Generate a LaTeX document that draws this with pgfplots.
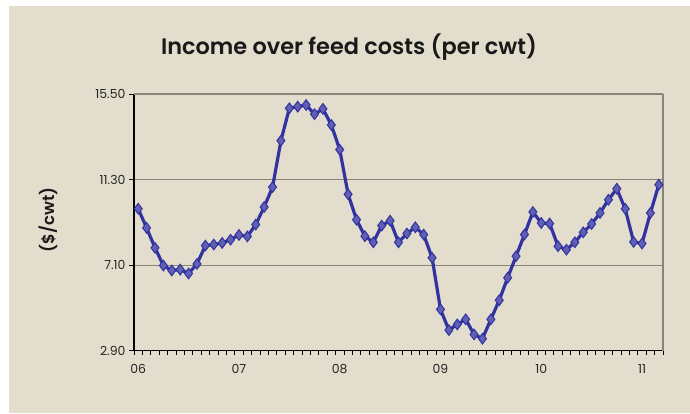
\documentclass[border=0pt]{standalone}
\usepackage{fontspec}
\setmainfont{Poppins}
\newfontfamily\titlefont{Poppins}[UprightFont={* SemiBold}]
\usepackage{pgfplots}
\pgfplotsset{compat=1.18}
\definecolor{bg}{RGB}{226,221,204}
\definecolor{ln}{RGB}{50,50,160}
\definecolor{mk}{RGB}{95,95,180}
\definecolor{gr}{RGB}{135,132,120}
\begin{document}
\begin{tikzpicture}[x=1bp,y=1bp]
\fill[white] (0,0) rectangle (690,413);
\fill[bg] (9,0) rectangle (690,407);
\node[font=\titlefont\fontsize{22.5}{26}\selectfont, text=black!90] at (349,366) {Income over feed costs (per cwt)};
\node[rotate=90,font=\titlefont\fontsize{16.5}{19}\selectfont, text=black!90] at (48,193) {(\$/cwt)};
\begin{axis}[
  at={(134bp,62.3bp)}, anchor=south west,
  scale only axis, width=529bp, height=256.7bp,
  xmin=-0.5, xmax=62.5, ymin=2.9, ymax=15.5,
  axis x line*=bottom, axis y line*=left,
  axis line style={black, line width=1.5bp, -},
  xtick={0,12,24,36,48,60},
  xticklabels={06,07,08,09,10,11},
  minor xtick={-0.5,0.5,...,62.5},
  major x tick style={draw=none},
  minor x tick style={black, line width=0.8bp},
  minor tick length=4bp,
  ytick={2.9,7.1,11.3,15.5},
  major y tick style={black, line width=0.8bp},
  major tick length=5bp,
  tick align=outside,
  ymajorgrids,
  grid style={gr, line width=1bp},
  yticklabel style={/pgf/number format/.cd, fixed, fixed zerofill, precision=2, assume math mode=true},
  xticklabel style={/pgf/number format/assume math mode=true, yshift=-5bp},
  tick label style={font=\fontsize{12.5}{15}\selectfont, text=black!85},
  clip=false,
]
\addplot[color=ln, line width=3.2bp, mark=diamond*, mark size=5.3bp,
  mark options={fill=mk, draw=ln, line width=1bp}] coordinates {
(0,9.87) (1,8.93) (2,7.95) (3,7.08) (4,6.84) (5,6.88) (6,6.69) (7,7.16)
(8,8.06) (9,8.11) (10,8.19) (11,8.35) (12,8.58) (13,8.51) (14,9.09) (15,9.95)
(16,10.93) (17,13.21) (18,14.80) (19,14.88) (20,14.96) (21,14.51) (22,14.77) (23,13.98)
(24,12.77) (25,10.58) (26,9.33) (27,8.52) (28,8.22) (29,9.04) (30,9.28) (31,8.22)
(32,8.65) (33,8.96) (34,8.60) (35,7.46) (36,4.93) (37,3.91) (38,4.19) (39,4.44)
(40,3.70) (41,3.49) (42,4.44) (43,5.38) (44,6.48) (45,7.54) (46,8.60) (47,9.71)
(48,9.17) (49,9.14) (50,8.03) (51,7.86) (52,8.22) (53,8.71) (54,9.12) (55,9.66)
(56,10.31) (57,10.85) (58,9.86) (59,8.24) (60,8.16) (61,9.66) (62,11.05)
};
\draw[gr, line width=1.2bp] (rel axis cs:1,0) -- (rel axis cs:1,1);
\draw[gr, line width=1.2bp] (rel axis cs:0,1) -- (rel axis cs:1,1);
\end{axis}
\end{tikzpicture}
\end{document}
